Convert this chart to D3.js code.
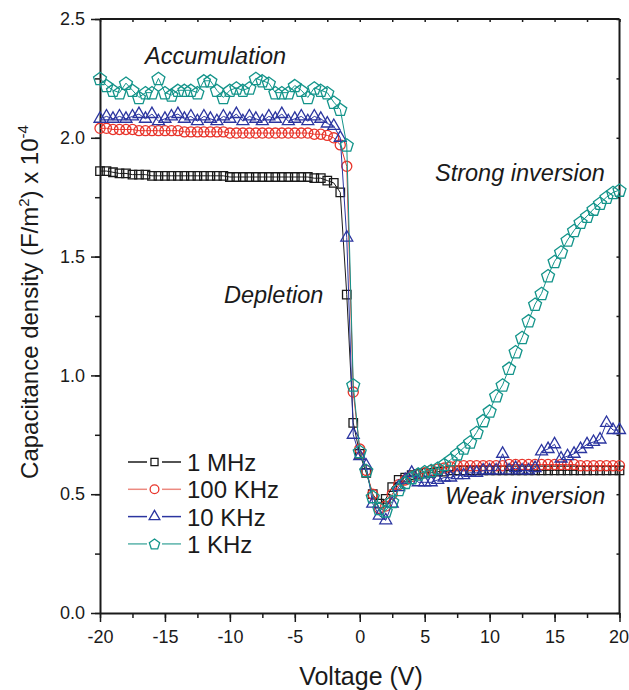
<!DOCTYPE html>
<html>
<head>
<meta charset="utf-8">
<script src="https://cdn.jsdelivr.net/npm/d3@7"></script>
<style>
  html, body { margin: 0; padding: 0; background: #fff; overflow: hidden; }
  svg { display: block; }
  text { font-family: "Liberation Sans", Arial, sans-serif; fill: #1a1a1a; }
</style>
</head>
<body>
<div id="plot"></div>
<script>
// C-V data, capacitance density in F/m^2 x 1e-4
const volts = [
  -20, -19.5, -19, -18.5, -18, -17.5, -17, -16.5, -16, -15.5,
  -15, -14.5, -14, -13.5, -13, -12.5, -12, -11.5, -11, -10.5,
  -10, -9.5, -9, -8.5, -8, -7.5, -7, -6.5, -6, -5.5,
  -5, -4.5, -4, -3.5, -3, -2.5, -2, -1.5, -1, -0.5,
  0, 0.5, 1, 1.5, 2, 2.5, 3, 3.5, 4, 4.5,
  5, 5.5, 6, 6.5, 7, 7.5, 8, 8.5, 9, 9.5,
  10, 10.5, 11, 11.5, 12, 12.5, 13, 13.5, 14, 14.5,
  15, 15.5, 16, 16.5, 17, 17.5, 18, 18.5, 19, 19.5,
  20
];

const cap1MHz = [
  1.86, 1.86, 1.855, 1.85, 1.85, 1.845, 1.845, 1.845, 1.84, 1.84,
  1.84, 1.84, 1.84, 1.84, 1.84, 1.84, 1.84, 1.84, 1.84, 1.84,
  1.835, 1.835, 1.835, 1.835, 1.835, 1.835, 1.835, 1.835, 1.835, 1.835,
  1.835, 1.835, 1.835, 1.83, 1.83, 1.82, 1.81, 1.77, 1.34, 0.80,
  0.67, 0.59, 0.50, 0.46, 0.48, 0.53, 0.56, 0.57, 0.58, 0.585,
  0.59, 0.59, 0.595, 0.595, 0.60, 0.60, 0.60, 0.60, 0.60, 0.60,
  0.60, 0.60, 0.60, 0.60, 0.60, 0.60, 0.60, 0.60, 0.60, 0.60,
  0.60, 0.60, 0.60, 0.60, 0.60, 0.60, 0.60, 0.60, 0.60, 0.60,
  0.60
];

const cap100kHz = [
  2.04, 2.04, 2.035, 2.035, 2.035, 2.035, 2.03, 2.03, 2.03, 2.03,
  2.03, 2.03, 2.03, 2.025, 2.025, 2.025, 2.025, 2.025, 2.025, 2.025,
  2.02, 2.02, 2.02, 2.02, 2.02, 2.02, 2.02, 2.02, 2.02, 2.02,
  2.02, 2.02, 2.02, 2.015, 2.015, 2.01, 2.00, 1.97, 1.88, 0.93,
  0.69, 0.60, 0.50, 0.44, 0.45, 0.50, 0.54, 0.56, 0.575, 0.585,
  0.59, 0.60, 0.605, 0.61, 0.615, 0.62, 0.62, 0.62, 0.62, 0.62,
  0.62, 0.62, 0.62, 0.625, 0.625, 0.625, 0.625, 0.625, 0.625, 0.625,
  0.625, 0.625, 0.625, 0.625, 0.62, 0.62, 0.62, 0.62, 0.62, 0.62,
  0.62
];

const cap10kHz = [
  2.08, 2.09, 2.08, 2.09, 2.08, 2.09, 2.10, 2.08, 2.10, 2.07,
  2.08, 2.09, 2.10, 2.08, 2.09, 2.07, 2.09, 2.08, 2.07, 2.09,
  2.08, 2.10, 2.07, 2.09, 2.08, 2.07, 2.09, 2.08, 2.10, 2.07,
  2.08, 2.09, 2.07, 2.09, 2.08, 2.06, 2.05, 2.00, 1.58, 0.75,
  0.66, 0.62, 0.46, 0.41, 0.39, 0.46, 0.53, 0.56, 0.59, 0.55,
  0.55, 0.55, 0.56, 0.57, 0.57, 0.58, 0.58, 0.59, 0.59, 0.60,
  0.60, 0.60, 0.67, 0.60, 0.61, 0.60, 0.60, 0.61, 0.68, 0.69,
  0.71, 0.65, 0.66, 0.67, 0.69, 0.71, 0.72, 0.73, 0.80, 0.77,
  0.77
];

const cap1kHz = [
  2.25, 2.22, 2.20, 2.19, 2.23, 2.20, 2.17, 2.19, 2.19, 2.25,
  2.19, 2.18, 2.20, 2.20, 2.20, 2.19, 2.24, 2.24, 2.20, 2.17,
  2.20, 2.21, 2.20, 2.21, 2.25, 2.24, 2.23, 2.19, 2.19, 2.19,
  2.22, 2.20, 2.17, 2.21, 2.20, 2.19, 2.15, 2.12, 1.97, 0.96,
  0.68, 0.60, 0.49, 0.44, 0.43, 0.47, 0.52, 0.55, 0.57, 0.585,
  0.595, 0.60, 0.61, 0.625, 0.645, 0.67, 0.695, 0.72, 0.76, 0.81,
  0.85, 0.915, 0.96, 1.03, 1.10, 1.16, 1.23, 1.30, 1.345, 1.42,
  1.48, 1.52, 1.57, 1.61, 1.645, 1.67, 1.70, 1.725, 1.75, 1.77,
  1.78
];

const seriesNames = ["1 MHz", "100 KHz", "10 KHz", "1 KHz"];
const xTicks = [-20, -15, -10, -5, 0, 5, 10, 15, 20];
const yTicks = [0, 0.5, 1.0, 1.5, 2.0, 2.5];

// pentagon marker (d3 has none built in)
const symbolPentagon = {
  draw(ctx, size) {
    const r = Math.sqrt(size / 2.3776);
    for (let i = 0; i < 5; i++) {
      const a = -Math.PI / 2 + i * 2 * Math.PI / 5;
      const px = r * Math.cos(a), py = r * Math.sin(a) + r * 0.1;
      if (i === 0) ctx.moveTo(px, py); else ctx.lineTo(px, py);
    }
    ctx.closePath();
  }
};

const series = [
  {name: seriesNames[0], values: cap1MHz, color: "#1a1a1a", legendLine: "#1a1a1a", symbol: d3.symbolSquare, size: 72, lsize: 50},
  {name: seriesNames[1], values: cap100kHz, color: "#e8352b", legendLine: "#ec8a80", symbol: d3.symbolCircle, size: 80, lsize: 60},
  {name: seriesNames[2], values: cap10kHz, color: "#2b35a0", legendLine: "#2b35a0", symbol: d3.symbolTriangle, size: 62, lsize: 50},
  {name: seriesNames[3], values: cap1kHz, color: "#13948a", legendLine: "#5ab3aa", symbol: symbolPentagon, size: 110, lsize: 70}
];

const w = 629, h = 690;
const margin = {top: 19, right: 9.5, bottom: 77, left: 100};
const innerWidth = w - margin.left - margin.right;
const innerHeight = h - margin.top - margin.bottom;

const svg = d3.select("div#plot")
  .append("svg")
    .attr("width", w)
    .attr("height", h)
  .append("g")
    .attr("transform", `translate(${margin.left}, ${margin.top})`);

const x = d3.scaleLinear().domain([-20, 20]).range([0, innerWidth]);
const y = d3.scaleLinear().domain([0, 2.5]).range([innerHeight, 0]);

// minor ticks
const xMinor = d3.range(-20, 20.01, 2.5);
const yMinor = d3.range(0, 2.51, 0.25);

const dropText = g => { g.select(".domain").remove(); g.selectAll("text").remove(); };

svg.append("g")
  .attr("transform", `translate(0, ${innerHeight})`)
  .call(d3.axisBottom(x).tickValues(xMinor).tickSize(5))
  .call(dropText);
svg.append("g")
  .call(d3.axisLeft(y).tickValues(yMinor).tickSize(5))
  .call(dropText);
svg.append("g")
  .call(d3.axisTop(x).tickValues(xMinor).tickSize(-3))
  .call(dropText);
svg.append("g")
  .attr("transform", `translate(${innerWidth}, 0)`)
  .call(d3.axisRight(y).tickValues(yMinor).tickSize(-3))
  .call(dropText);

// major axes (plain hyphen for negatives, as in the figure)
const xAxis = svg.append("g")
  .attr("transform", `translate(0, ${innerHeight})`)
  .call(d3.axisBottom(x).tickValues(xTicks).tickSize(9).tickPadding(8)
    .tickFormat(d => String(d)).tickSizeOuter(0));
const yAxis = svg.append("g")
  .call(d3.axisLeft(y).tickValues(yTicks).tickSize(9).tickPadding(6)
    .tickFormat(d => d.toFixed(1)).tickSizeOuter(0));

[xAxis, yAxis].forEach(a => {
  a.selectAll("text").style("font-size", "18px").style("fill", "#1a1a1a");
  a.select(".domain").attr("stroke", "#1a1a1a").attr("stroke-width", 2);
});
// keep the last x label inside the window
xAxis.selectAll("text").filter(d => d === 20).attr("dx", -1);
svg.selectAll(".tick line").attr("stroke", "#1a1a1a").attr("stroke-width", 1.5);

// frame top/right
svg.append("line").attr("x1", 0).attr("x2", innerWidth).attr("y1", 0).attr("y2", 0)
  .attr("stroke", "#1a1a1a").attr("stroke-width", 2);
svg.append("line").attr("x1", innerWidth).attr("x2", innerWidth).attr("y1", 0).attr("y2", innerHeight)
  .attr("stroke", "#1a1a1a").attr("stroke-width", 2);

// axis titles
svg.append("text")
  .attr("x", 361 - margin.left)
  .attr("y", 685 - margin.top)
  .attr("text-anchor", "middle")
  .style("font-size", "25px")
  .text("Voltage (V)");

const yt = svg.append("text")
  .attr("transform", `translate(${38 - margin.left}, ${302 - margin.top}) rotate(-90)`)
  .attr("text-anchor", "middle")
  .style("font-size", "24px");
yt.append("tspan").text("Capacitance density (F/m");
yt.append("tspan").attr("dy", -9).style("font-size", "15px").text("2");
yt.append("tspan").attr("dy", 9).text(") x 10");
yt.append("tspan").attr("dy", -10).style("font-size", "15px").text("-4");

// data lines and markers
const line = d3.line().x((d, i) => x(volts[i])).y(d => y(d));

series.forEach(s => {
  svg.append("path")
    .datum(s.values)
    .attr("fill", "none")
    .attr("stroke", s.color)
    .attr("stroke-width", 1)
    .attr("d", line);

  svg.append("g")
    .selectAll("path")
    .data(s.values)
    .enter().append("path")
      .attr("transform", (d, i) => `translate(${x(volts[i])}, ${y(d)})`)
      .attr("d", d3.symbol().type(s.symbol).size(s.size))
      .attr("fill", "none")
      .attr("stroke", s.color)
      .attr("stroke-width", 1.3);
});

// region labels
const notes = [
  {t: "Accumulation", x: 145 - margin.left, y: 64 - margin.top},
  {t: "Strong inversion", x: 435 - margin.left, y: 181 - margin.top},
  {t: "Depletion", x: 224 - margin.left, y: 303 - margin.top},
  {t: "Weak inversion", x: 445 - margin.left, y: 504 - margin.top}
];
svg.selectAll(".note")
  .data(notes)
  .enter().append("text")
    .attr("class", "note")
    .attr("x", d => d.x)
    .attr("y", d => d.y)
    .style("font-size", "23.5px")
    .style("font-style", "italic")
    .text(d => d.t);

// legend
const legend = svg.append("g").attr("transform", `translate(${128 - margin.left}, ${462 - margin.top})`);
series.forEach((s, i) => {
  const g = legend.append("g").attr("transform", `translate(0, ${i * 27.3})`);
  g.append("line").attr("x1", 0).attr("x2", 19).attr("stroke", s.legendLine).attr("stroke-width", 1.5);
  g.append("line").attr("x1", 34).attr("x2", 53).attr("stroke", s.legendLine).attr("stroke-width", 1.5);
  g.append("path")
    .attr("transform", "translate(26.5, 0)")
    .attr("d", d3.symbol().type(s.symbol).size(s.lsize))
    .attr("fill", "none")
    .attr("stroke", s.color)
    .attr("stroke-width", 1.3);
  g.append("text")
    .attr("x", 59)
    .attr("y", 9)
    .style("font-size", "24px")
    .text(s.name);
});
</script>
</body>
</html>
